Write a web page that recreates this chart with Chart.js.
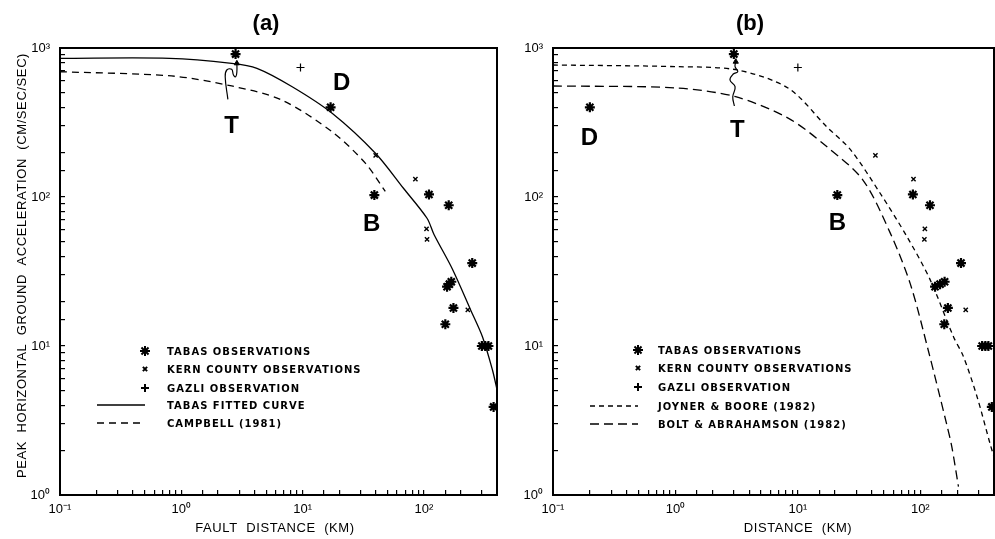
<!DOCTYPE html>
<html>
<head>
<meta charset="utf-8">
<script src="https://cdn.jsdelivr.net/npm/chart.js@4.4.1/dist/chart.umd.min.js"></script>
<style>
html, body { margin: 0; padding: 0; background: #fff; }
#wrap { position: relative; width: 995px; height: 539px; overflow: hidden; }
canvas { position: absolute; top: 0; }
#chart-a { left: 0; }
#chart-b { left: 505px; }
</style>
</head>
<body>
<div id="wrap">
  <canvas id="chart-a" width="505" height="539"></canvas>
  <canvas id="chart-b" width="497" height="539"></canvas>
</div>
<script>
// ── Observations (PGA in cm/sec/sec) ─────────────────────────────────────────
const tabasPga      = [910, 400, 103, 104, 88, 36, 25, 26, 27, 18, 14, 10, 10, 10, 3.9];
const tabasFaultKm  = [2.8, 17, 39, 110, 160, 250, 155, 162, 168, 175, 150, 300, 320, 340, 375];
const tabasDistKm   = [3.0, 0.2, 21, 87, 120, 215, 132, 145, 158, 168, 157, 320, 340, 360, 384];

const kernPga       = [190, 132, 61, 52, 17.5];
const kernFaultKm   = [40, 85, 105, 106, 230];
const kernDistKm    = [43, 88, 109, 108, 235];

const gazliPga      = [740];
const gazliFaultKm  = [9.6];
const gazliDistKm   = [10];

// ── Curves ───────────────────────────────────────────────────────────────────
const tabasFitKm    = [0.1, 0.8, 2.6, 4.2, 8.2, 17.5, 40, 68, 106, 121, 171, 243, 304, 367, 400];
const tabasFitPga   = [853, 853, 789, 731, 550, 365, 196, 114, 72, 56, 33, 17.4, 11.5, 6.9, 5.1];

const campbellKm    = [0.1, 0.83, 2.6, 6.7, 17.5, 33, 48];
const campbellPga   = [693, 649, 556, 448, 274, 168, 109];

const joynerKm      = [0.1, 1, 3.2, 8.4, 17.2, 27, 47, 78, 120, 187, 225, 290, 372, 400];
const joynerPga     = [769, 750, 712, 536, 296, 207, 106, 54, 28, 11.5, 8.5, 4.6, 2.2, 1.8];

const boltKm        = [0.1, 1, 3.1, 8.4, 17.2, 34, 57, 83, 116, 164, 181, 205];
const boltPga       = [556, 540, 471, 337, 218, 130, 57, 26, 9.4, 3.0, 2.1, 1.14];

// "T" arrow squiggles (data coordinates)
const arrowAKm      = [2.42, 2.30, 2.37, 2.60, 2.69, 2.81, 2.87, 2.87];
const arrowAPga     = [452, 642, 712, 719, 659, 642, 693, 789];
const arrowBKm      = [3.03, 2.94, 3.07, 2.79, 2.97, 3.23, 3.07, 3.11];
const arrowBPga     = [408, 471, 550, 610, 669, 693, 749, 809];

// Station letters
const lettersA = [{ t: "D", x: 21, y: 582 }, { t: "T", x: 2.59, y: 300 }, { t: "B", x: 37, y: 66 }];
const lettersB = [{ t: "D", x: 0.198, y: 248 }, { t: "T", x: 3.2, y: 282 }, { t: "B", x: 21, y: 67 }];

const zip = (xs, ys) => xs.map((v, i) => ({ x: v, y: ys[i] }));

const SUP = { "-": "⁻", "0": "⁰", "1": "¹", "2": "²", "3": "³" };
function powLabel(v) {
    const l = Math.log10(v);
    if (Math.abs(l - Math.round(l)) > 1e-6) return "";
    return "10" + String(Math.round(l)).split("").map(c => SUP[c]).join("");
}

function starSet(label, data) {
    return { label, data, pointStyle: "star", pointRadius: 5, borderWidth: 2.2,
             borderColor: "#000", backgroundColor: "#000", showLine: false };
}
function kernSet(data) {
    return { label: "KERN COUNTY OBSERVATIONS", data, pointStyle: "crossRot", pointRadius: 3,
             borderWidth: 1.4, borderColor: "#000", showLine: false };
}
function gazliSet(data) {
    return { label: "GAZLI OBSERVATION", data, pointStyle: "cross", pointRadius: 4,
             borderWidth: 1.2, borderColor: "#000", showLine: false };
}
function curveSet(label, data, dash) {
    return { label, data, showLine: true, pointRadius: 0, borderColor: "#000",
             borderWidth: 1.3, borderDash: dash, tension: 0.3, fill: false };
}
function arrowSet(data) {
    const n = data.length;
    return { label: "", inLegend: false, data, showLine: true, tension: 0.45, borderColor: "#000",
             borderWidth: 1.2, pointStyle: "triangle", backgroundColor: "#000",
             pointRadius: data.map((d, i) => (i === n - 1 ? 3 : 0)), pointBorderWidth: 1 };
}

// ── Decorations: frame, titles, letters, legend ─────────────────────────────
const decor = {
    id: "decor",
    beforeDraw(chart) { chart.ctx.letterSpacing = "0px"; },
    afterDraw(chart, args, o) {
        const { ctx, chartArea: a, scales: { x, y } } = chart;
        ctx.save();
        ctx.strokeStyle = "#000";
        ctx.lineWidth = 2;
        ctx.strokeRect(a.left, a.top, a.right - a.left, a.bottom - a.top);

        ctx.fillStyle = "#000";
        ctx.textAlign = "center";
        ctx.textBaseline = "middle";
        ctx.font = "bold 22px 'Liberation Sans'";
        ctx.fillText(o.title, o.titleX, 24);

        ctx.letterSpacing = "0.6px";
        ctx.font = "13px 'Liberation Sans'";
        ctx.fillText(o.xTitle, o.xTitleX, 528);
        if (o.yTitle) {
            ctx.save();
            ctx.translate(o.yTitleX, (a.top + a.bottom) / 2 - 6);
            ctx.rotate(-Math.PI / 2);
            ctx.fillText(o.yTitle, 0, 0);
            ctx.restore();
        }

        ctx.letterSpacing = "0px";
        ctx.font = "bold 24px 'Liberation Sans'";
        o.letters.forEach(m => ctx.fillText(m.t, x.getPixelForValue(m.x), y.getPixelForValue(m.y)));

        // legend
        ctx.textAlign = "left";
        ctx.font = "bold 10px 'DejaVu Sans'";
        ctx.letterSpacing = "1px";
        const items = chart.data.datasets.filter(d => d.inLegend !== false);
        items.forEach((d, i) => {
            const ly = o.legendY[i];
            if (d.showLine) {
                ctx.save();
                ctx.lineWidth = 1.3;
                ctx.setLineDash(d.borderDash || []);
                ctx.beginPath();
                ctx.moveTo(o.lineX0, ly);
                ctx.lineTo(o.symX, ly);
                ctx.stroke();
                ctx.restore();
            } else {
                Chart.helpers.drawPoint(ctx, { pointStyle: d.pointStyle, radius: d.pointRadius,
                    borderWidth: d.borderWidth, rotation: 0 }, o.symX, ly);
            }
            ctx.fillText(d.label, o.textX, ly + 1);
        });
        ctx.restore();
    }
};

function makeChart(id, datasets, yAxisWidth, padRight, deco) {
    return new Chart(document.getElementById(id), {
        type: "scatter",
        data: { datasets },
        plugins: [decor],
        options: {
            responsive: false,
            animation: false,
            devicePixelRatio: 1,
            layout: { padding: { top: 48, right: padRight, left: 0, bottom: 0 } },
            plugins: { legend: { display: false }, tooltip: { enabled: false }, decor: deco },
            scales: {
                x: {
                    type: "logarithmic", position: "bottom", min: 0.1, max: 400,
                    afterFit: s => { s.height = 44; s.paddingLeft = 0; s.paddingRight = 0; },
                    border: { display: true, color: "#000", width: 2 },
                    grid: { drawOnChartArea: false, drawTicks: true, tickLength: -5, color: "#000", lineWidth: 1.2 },
                    ticks: { autoSkip: false, maxRotation: 0, padding: 12, color: "#000",
                             font: { family: "Liberation Sans", size: 13 }, callback: v => powLabel(v) }
                },
                y: {
                    type: "logarithmic", position: "left", min: 1, max: 1000,
                    afterFit: s => { s.width = yAxisWidth; s.paddingTop = 0; s.paddingBottom = 0; },
                    border: { display: true, color: "#000", width: 2 },
                    grid: { drawOnChartArea: false, drawTicks: true, tickLength: -5, color: "#000", lineWidth: 1.2 },
                    ticks: { autoSkip: false, padding: 15, color: "#000",
                             font: { family: "Liberation Sans", size: 13 }, callback: v => powLabel(v) }
                }
            }
        }
    });
}

makeChart("chart-a", [
    starSet("TABAS OBSERVATIONS", zip(tabasFaultKm, tabasPga)),
    kernSet(zip(kernFaultKm, kernPga)),
    gazliSet(zip(gazliFaultKm, gazliPga)),
    curveSet("TABAS FITTED CURVE", zip(tabasFitKm, tabasFitPga), []),
    curveSet("CAMPBELL (1981)", zip(campbellKm, campbellPga), [7, 5]),
    arrowSet(zip(arrowAKm, arrowAPga))
], 60, 8, {
    title: "(a)", titleX: 266,
    xTitle: "FAULT  DISTANCE  (KM)", xTitleX: 275,
    yTitle: "PEAK  HORIZONTAL  GROUND  ACCELERATION  (CM/SEC/SEC)", yTitleX: 22,
    letters: lettersA,
    legendY: [351, 369, 388, 405, 423], symX: 145, textX: 167, lineX0: 97
});

makeChart("chart-b", [
    starSet("TABAS OBSERVATIONS", zip(tabasDistKm, tabasPga)),
    kernSet(zip(kernDistKm, kernPga)),
    gazliSet(zip(gazliDistKm, gazliPga)),
    curveSet("JOYNER & BOORE (1982)", zip(joynerKm, joynerPga), [5, 4]),
    curveSet("BOLT & ABRAHAMSON (1982)", zip(boltKm, boltPga), [9, 5]),
    arrowSet(zip(arrowBKm, arrowBPga))
], 48, 8, {
    title: "(b)", titleX: 245,
    xTitle: "DISTANCE  (KM)", xTitleX: 293,
    yTitle: "", yTitleX: 0,
    letters: lettersB,
    legendY: [350, 368, 387, 406, 424], symX: 133, textX: 153, lineX0: 85
});
</script>
</body>
</html>
